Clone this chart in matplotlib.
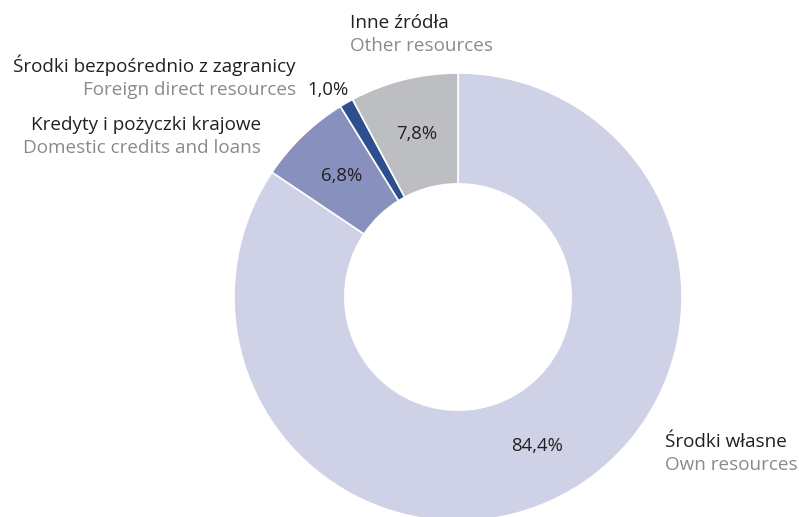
import matplotlib.pyplot as plt

plt.rcParams['font.family'] = ['Open Sans', 'DejaVu Sans']

labels_pl = ["Środki własne", "Kredyty i pożyczki krajowe",
             "Środki bezpośrednio z zagranicy", "Inne źródła"]
labels_en = ["Own resources", "Domestic credits and loans",
             "Foreign direct resources", "Other resources"]
values = [84.4, 6.8, 1.0, 7.8]
colors = ["#cfd2e6", "#8891bd", "#2e4f8f", "#bdbec1"]

W, H = 799, 517
DARK = "#231f20"
GREY = "#8a8a8a"
FS = 13.6


def main():
    fig = plt.figure(figsize=(W / 100, H / 100), dpi=100)
    ax = fig.add_axes([0, 0, 1, 1])

    R = 224
    cx, cy = 458, H - 297
    wedges, texts, autotexts = ax.pie(
        values, colors=colors, startangle=90, counterclock=False,
        center=(cx, cy), radius=R,
        autopct=lambda p: f"{p:.1f}".replace(".", ","),
        pctdistance=0.752,
        wedgeprops=dict(width=R * 0.495, edgecolor="white", linewidth=1.2),
        textprops=dict(fontsize=13.3, color=DARK),
    )
    for t, v in zip(autotexts, values):
        t.set_text(f"{v:.1f}".replace(".", ",") + "%")
    # small slice label sits outside the ring
    autotexts[2].set_position((328, H - 90))

    ax.set_xlim(0, W)
    ax.set_ylim(0, H)
    ax.set_aspect("equal")
    ax.axis("off")

    def lab(x, y, pl, en, ha):
        ax.text(x, H - y, pl, ha=ha, va="baseline", fontsize=FS, color=DARK)
        ax.text(x, H - y - 23, en, ha=ha, va="baseline", fontsize=FS, color=GREY)

    lab(350, 28, labels_pl[3], labels_en[3], "left")
    lab(296, 72, labels_pl[2], labels_en[2], "right")
    lab(261, 130, labels_pl[1], labels_en[1], "right")
    lab(665, 447, labels_pl[0], labels_en[0], "left")

    fig.savefig("out.png", dpi=100)


if __name__ == "__main__":
    main()
